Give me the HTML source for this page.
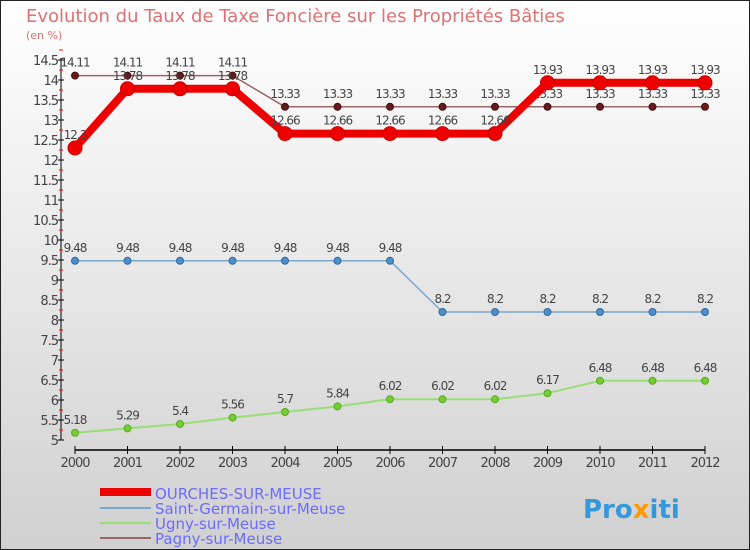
<!DOCTYPE html>
<html><head><meta charset="utf-8"><style>
body{margin:0}
#c{width:750px;height:550px;position:relative;overflow:hidden;font-family:"DejaVu Sans","Liberation Sans",sans-serif}
</style></head><body>
<div id="c">
<svg id="s" width="750" height="550" xmlns="http://www.w3.org/2000/svg">
<defs><linearGradient id="bg" x1="0" y1="0" x2="0" y2="1"><stop offset="0" stop-color="#ffffff"/><stop offset="1" stop-color="#d0d0d0"/></linearGradient></defs>
<rect x="0.5" y="0.5" width="749" height="549" fill="url(#bg)" stroke="#222"/>
<text x="26" y="22" font-size="18" fill="#e07070">Evolution du Taux de Taxe Foncière sur les Propriétés Bâties</text>
<text x="26" y="39" font-size="11" fill="#e07070">(en %)</text>
<g id="axes"></g><g id="series"></g>
<g>
<rect x="100" y="488" width="51" height="8" fill="#ee0000"/>
<text x="155" y="499" font-size="15" fill="#6b6bff">OURCHES-SUR-MEUSE</text>
<rect x="100" y="507" width="51" height="2" fill="#7aa8cc"/>
<text x="155" y="514" font-size="15" fill="#6b6bff">Saint-Germain-sur-Meuse</text>
<rect x="100" y="522" width="51" height="2" fill="#99dd77"/>
<text x="155" y="529" font-size="15" fill="#6b6bff">Ugny-sur-Meuse</text>
<rect x="100" y="537" width="51" height="2" fill="#996666"/>
<text x="155" y="544" font-size="15" fill="#6b6bff">Pagny-sur-Meuse</text>
</g>
<text x="583" y="518" font-size="26" font-weight="bold" fill="#3399dd">Pro<tspan fill="#ff9900">x</tspan>iti</text>
</svg>
</div>
<script>
const years=[2000,2001,2002,2003,2004,2005,2006,2007,2008,2009,2010,2011,2012];
const ourches=[12.3,13.78,13.78,13.78,12.66,12.66,12.66,12.66,12.66,13.93,13.93,13.93,13.93];
const stGermain=[9.48,9.48,9.48,9.48,9.48,9.48,9.48,8.2,8.2,8.2,8.2,8.2,8.2];
const ugny=[5.18,5.29,5.4,5.56,5.7,5.84,6.02,6.02,6.02,6.17,6.48,6.48,6.48];
const pagny=[14.11,14.11,14.11,14.11,13.33,13.33,13.33,13.33,13.33,13.33,13.33,13.33,13.33];
const yTicks=[5,5.5,6,6.5,7,7.5,8,8.5,9,9.5,10,10.5,11,11.5,12,12.5,13,13.5,14,14.5];
const NS="http://www.w3.org/2000/svg";
const X=i=>75+i*52.5;
const Y=v=>440-(v-5)*40;
function mk(t,a,p){const e=document.createElementNS(NS,t);for(const k in a)e.setAttribute(k,a[k]);p.appendChild(e);return e;}
const ax=document.getElementById('axes'),sg=document.getElementById('series');
let l=mk('line',{x1:61,y1:58,x2:61,y2:440,stroke:'#000'},ax);


yTicks.forEach(v=>{
 let t=mk('line',{x1:58,y1:Y(v),x2:64,y2:Y(v),stroke:'#000'},ax);
 
 
 let m=mk('line',{x1:59,y1:Y(v+0.25),x2:63,y2:Y(v+0.25),stroke:'#f00'},ax);
 
 
 let tx=mk('text',{x:58,y:Y(v)+5,'font-size':13,fill:'#444','text-anchor':'end','letter-spacing':'-1'},ax);
 tx.textContent=String(v);
 
 
});
let xa=mk('line',{x1:75,y1:450,x2:705,y2:450,stroke:'#000','stroke-width':1.5},ax);


years.forEach((y,i)=>{
 let t=mk('line',{x1:X(i),y1:446,x2:X(i),y2:454,stroke:'#000'},ax);
 
 
 let tx=mk('text',{x:X(i),y:467,'font-size':13,fill:'#444','text-anchor':'middle','letter-spacing':'-1'},ax);
 tx.textContent=String(y);
 
 
});
function series(data,name,color,w,r,dot,dotStroke){
 const g=mk('g',{},sg);
 
 
 const pl=mk('polyline',{points:data.map((v,i)=>X(i)+','+Y(v)).join(' '),fill:'none',stroke:color,'stroke-width':w,'stroke-linejoin':'round'},g);
 
 
 data.forEach((v,i)=>{
  const c=mk('circle',{cx:X(i),cy:Y(v),r:r,fill:dot,stroke:dotStroke,'stroke-width':1},g);
  
  
  const t=mk('text',{x:X(i),y:Y(v)-9,'font-size':12,fill:'#444','text-anchor':'middle','letter-spacing':'-1'},g);
  t.textContent=String(v);
  
  
 });
}
series(pagny,'pagny','#996666',1.5,3.5,'#661a1a','#441111');
series(stGermain,'saint-germain','#7aa8cc',1.5,3.5,'#4d90cc','#336699');
series(ugny,'ugny','#99dd77',2,3.5,'#77cc33','#55aa22');
series(ourches,'ourches','#ee0000',8,7,'#ee0000','#cc0000');
</script>
</body></html>
